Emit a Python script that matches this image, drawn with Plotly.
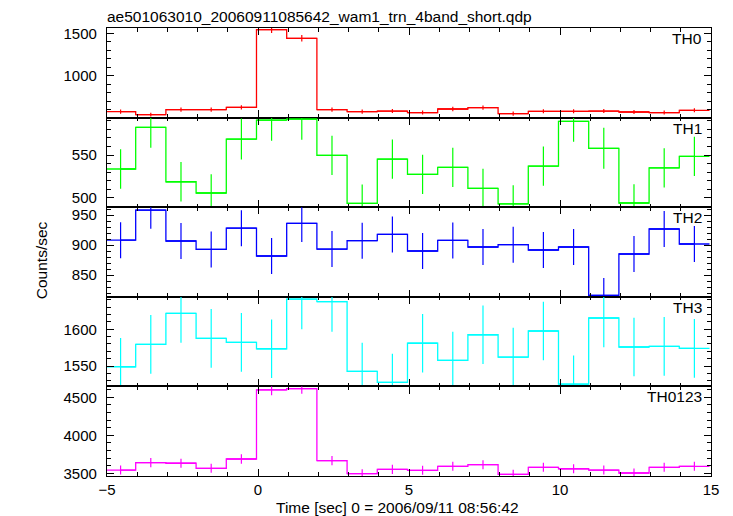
import plotly.graph_objects as go
from plotly.subplots import make_subplots

title_text = "ae501063010_20060911085642_wam1_trn_4band_short.qdp"
x_label = "Time [sec] 0 = 2006/09/11 08:56:42"
y_label = "Counts/sec"

time_centers = [-4.55, -3.55, -2.55, -1.55, -0.55, 0.45, 1.45, 2.45, 3.45, 4.45,
                5.45, 6.45, 7.45, 8.45, 9.45, 10.45, 11.45, 12.45, 13.45, 14.45]
bin_half_width = 0.5

th0 = [580, 545, 604, 604, 631, 1542, 1441, 604, 580, 587,
       569, 611, 627, 557, 584, 584, 587, 576, 569, 596]
th0_err = [24, 23, 25, 25, 25, 39, 38, 25, 24, 24,
           24, 25, 25, 24, 24, 24, 24, 24, 24, 24]

th1 = [533.6, 582.4, 518.7, 505.5, 568.7, 590.8, 592, 549.6, 493.4, 545.3,
       527.4, 535.6, 511, 492.7, 537, 589.4, 557.8, 493.8, 535, 548.5]
th1_err = [23, 24, 23, 22, 24, 24, 24, 23, 22, 23,
           23, 23, 23, 22, 23, 24, 24, 22, 23, 23]

th2 = [908, 958, 906.7, 892.7, 928, 881.7, 936, 893.3, 907.2, 917.7,
       890, 907.7, 896.7, 900.5, 891.7, 896.7, 816, 885, 926.7, 901.7]
th2_err = [30, 31, 30, 30, 30, 30, 31, 30, 30, 30,
           30, 30, 30, 30, 30, 30, 29, 30, 30, 30]

th3 = [1549, 1579.5, 1621.8, 1587.7, 1582.3, 1573.5, 1641, 1637.7, 1542.7, 1527.7,
       1581, 1557.7, 1592.6, 1562.2, 1597.7, 1525.4, 1615.4, 1575.9, 1576.8, 1574]
th3_err = [39, 40, 40, 40, 40, 40, 41, 41, 39, 39,
           40, 39, 40, 40, 40, 39, 40, 40, 40, 40]

th0123 = [3543, 3640, 3632, 3566, 3688, 4596, 4613, 3666, 3495, 3552,
          3539, 3592, 3613, 3487, 3579, 3560, 3543, 3504, 3579, 3592]
th0123_err = [60, 60, 60, 60, 61, 68, 68, 61, 59, 60,
              59, 60, 60, 59, 60, 60, 60, 59, 60, 60]

panel_names = ["TH0", "TH1", "TH2", "TH3", "TH0123"]
panel_values = [th0, th1, th2, th3, th0123]
panel_errors = [th0_err, th1_err, th2_err, th3_err, th0123_err]
panel_colors = ["#ff0000", "#00ff00", "#0000ff", "#00ffff", "#ff00ff"]
panel_ranges = [[510, 1562], [488.9, 593.8], [813.7, 963], [1522.2, 1644.3], [3464.5, 4643]]
panel_dticks = [500, 50, 50, 50, 500]
panel_minor = [100, 10, 10, 10, 100]

FONT = "Liberation Sans, Arial, Helvetica, sans-serif"

fig = make_subplots(rows=5, cols=1, shared_xaxes=True, vertical_spacing=0)

for i, (name, vals, errs, col) in enumerate(zip(panel_names, panel_values, panel_errors, panel_colors)):
    r = i + 1
    fig.add_trace(go.Scatter(
        x=time_centers, y=vals, mode="lines", line_shape="hvh",
        line=dict(color=col, width=1.3),
        error_y=dict(type="data", array=errs, visible=True, color=col, thickness=1.2, width=0),
        error_x=dict(type="constant", value=bin_half_width, visible=True, color=col, thickness=1.3, width=0),
        showlegend=False, hoverinfo="skip",
    ), row=r, col=1)
    axis_common = dict(
        showline=True, linecolor="black", linewidth=1.3, mirror="allticks",
        ticks="inside", ticklen=7, tickwidth=1, tickcolor="black",
        showgrid=False, zeroline=False,
        tickfont=dict(family=FONT, size=15, color="black"),
    )
    fig.update_yaxes(range=panel_ranges[i], tick0=0, dtick=panel_dticks[i],
                     minor=dict(dtick=panel_minor[i], tick0=0, ticks="inside", ticklen=3.5,
                                tickcolor="black", tickwidth=1, showgrid=False),
                     ticklabelstandoff=6,
                     row=r, col=1, **axis_common)
    fig.update_xaxes(range=[-5, 15], tick0=0, dtick=5,
                     minor=dict(dtick=1, tick0=0, ticks="inside", ticklen=3.5,
                                tickcolor="black", tickwidth=1, showgrid=False),
                     showticklabels=(r == 5), ticklabelstandoff=0,
                     row=r, col=1, **axis_common)
    xref = "x domain" if r == 1 else f"x{r} domain"
    yref = "y domain" if r == 1 else f"y{r} domain"
    fig.add_annotation(text=name, xref=xref, yref=yref, x=1, y=1,
                       xanchor="right", yanchor="top", xshift=-7, yshift=0,
                       showarrow=False, font=dict(family=FONT, size=15.5, color="black"))

fig.add_annotation(text=title_text, xref="paper", yref="paper", x=0, y=1,
                   xanchor="left", yanchor="bottom", yshift=1, xshift=-2,
                   showarrow=False, font=dict(family=FONT, size=15.5, color="black"))
fig.add_annotation(text=x_label, xref="paper", yref="paper", x=0.481, y=0,
                   xanchor="center", yanchor="top", yshift=-21,
                   showarrow=False, font=dict(family=FONT, size=15.5, color="black"))
fig.add_annotation(text=y_label, xref="paper", yref="paper", x=-0.109, y=0.482,
                   xanchor="center", yanchor="middle", textangle=-90,
                   showarrow=False, font=dict(family=FONT, size=15.5, color="black"))

fig.update_layout(
    width=733, height=516,
    margin=dict(l=107, r=22, t=28, b=40),
    paper_bgcolor="white", plot_bgcolor="white",
    font=dict(family=FONT, color="black"),
)

fig.write_html("out.html", config={"displayModeBar": False},
               post_script="document.body.style.margin='0px';document.body.style.padding='0px';document.body.style.overflow='hidden';")
